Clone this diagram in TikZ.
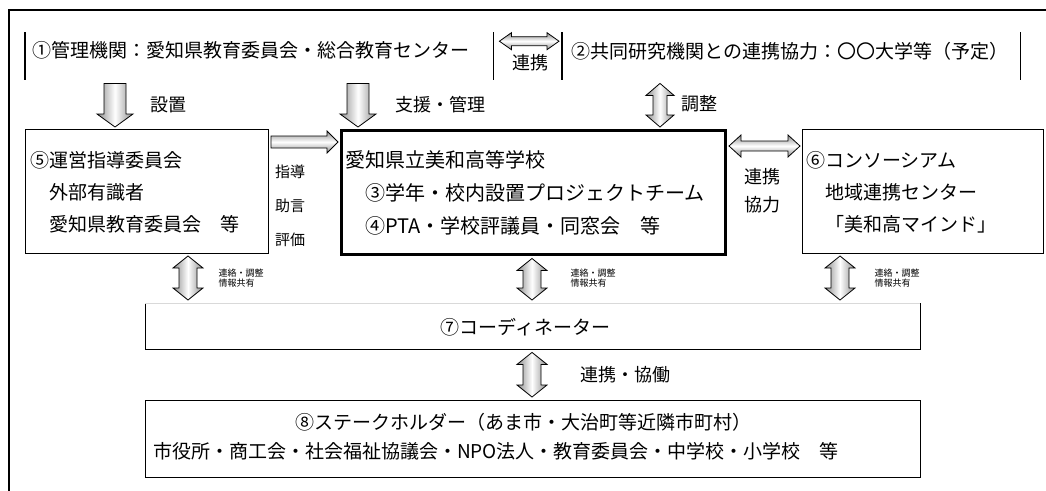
\documentclass[tikz,border=0pt]{standalone}
\usepackage{fontspec}
\setmainfont{Noto Sans CJK JP}
\usetikzlibrary{calc}

\newcommand\SingleDown[5]{\path[varr] let \p1=(#1), \p2=(#2) in
  (\x1-#3pt,\y1) -- (\x1+#3pt,\y1) -- (\x1+#3pt,\y2+#5pt) -- (\x1+#4pt,\y2+#5pt) -- (\x1,\y2)
  -- (\x1-#4pt,\y2+#5pt) -- (\x1-#3pt,\y2+#5pt) -- cycle;}
\newcommand\SingleRight[5]{\path[harr] let \p1=(#1), \p2=(#2) in
  (\x1,\y1+#3pt) -- (\x2-#5pt,\y1+#3pt) -- (\x2-#5pt,\y1+#4pt) -- (\x2,\y1)
  -- (\x2-#5pt,\y1-#4pt) -- (\x2-#5pt,\y1-#3pt) -- (\x1,\y1-#3pt) -- cycle;}
\newcommand\DoubleV[5]{\path[varr] let \p1=(#1), \p2=(#2) in
  (\x1,\y1) -- (\x1+#4pt,\y1-#5pt) -- (\x1+#3pt,\y1-#5pt) -- (\x1+#3pt,\y2+#5pt) -- (\x1+#4pt,\y2+#5pt)
  -- (\x1,\y2) -- (\x1-#4pt,\y2+#5pt) -- (\x1-#3pt,\y2+#5pt) -- (\x1-#3pt,\y1-#5pt) -- (\x1-#4pt,\y1-#5pt) -- cycle;}
\newcommand\DoubleH[5]{\path[harr] let \p1=(#1), \p2=(#2) in
  (\x1,\y1) -- (\x1+#5pt,\y1+#4pt) -- (\x1+#5pt,\y1+#3pt) -- (\x2-#5pt,\y1+#3pt) -- (\x2-#5pt,\y1+#4pt)
  -- (\x2,\y1) -- (\x2-#5pt,\y1-#4pt) -- (\x2-#5pt,\y1-#3pt) -- (\x1+#5pt,\y1-#3pt) -- (\x1+#5pt,\y1-#4pt) -- cycle;}

\tikzset{
  area/.style={inner sep=0, anchor=north west},
  thinbox/.style={draw, line width=1pt, inner sep=0, anchor=north west},
  thickbox/.style={draw, line width=3pt, inner sep=0, anchor=north west},
  bracket/.style={line width=1.5pt},
  txt/.style={font=\fontsize{19}{32}\selectfont, align=left, inner sep=0},
  ctxt/.style={font=\fontsize{20}{33}\selectfont, align=left, inner sep=0},
  lbl/.style={font=\fontsize{18}{20}\selectfont, inner sep=0},
  slbl/.style={font=\fontsize{15}{34}\selectfont, align=center, inner sep=0},
  lbl2/.style={font=\fontsize{18}{28}\selectfont, align=center, inner sep=0},
  tiny/.style={font=\fontsize{9}{10}\selectfont, align=left, inner sep=0},
  varr/.style={draw=black, line width=0.8pt, left color=black!45, right color=black!45, middle color=white},
  harr/.style={draw=black, line width=0.8pt, top color=black!45, bottom color=black!45, middle color=white},
}

\begin{document}
\begin{tikzpicture}[x=1pt,y=-1pt]
\useasboundingbox (0,0) rectangle (1046,490);
\clip (0,0) rectangle (1046,490);
\draw[line width=2pt] (9,500) -- (9,10) -- (1060,10);

% top row
\node[area, minimum width=468, minimum height=48] (b1) at (25,32) {};
\node[area, minimum width=458, minimum height=48] (b2) at (562,32) {};
\draw[bracket] (b1.north west) -- (b1.south west);
\draw[bracket] (b1.north east) -- (b1.south east);
\draw[bracket] (b2.north west) -- (b2.south west);
\draw[bracket] (b2.north east) -- (b2.south east);
\node[txt] (t1) at (251,50) {①管理機関：愛知県教育委員会・総合教育センター};
\node[txt] (t2) at (790,51) {②共同研究機関との連携協力：〇〇大学等（予定）};
\coordinate (a12s) at ($(b1.east)+(6,-15)$);
\coordinate (a12e) at ($(b2.west)+(-3,-15)$);
\DoubleH{a12s}{a12e}{4.5}{8.5}{12}
\node[lbl] (l12) at (530,63) {連携};

% second row
\node[thinbox, minimum width=243, minimum height=124] (b5) at (25,129) {};
\node[thickbox, minimum width=384, minimum height=124] (bc) at (340,129) {};
\node[thinbox, minimum width=241, minimum height=124] (b6) at (802,129) {};

\node[txt, anchor=west] (tx5) at ($(b5.west)+(5,1)$) {⑤運営指導委員会\\　外部有識者\\　愛知県教育委員会　等};
\node[ctxt, anchor=west] (txc) at ($(bc.west)+(5,0)$) {愛知県立美和高等学校\\　③学年・校内設置プロジェクトチーム\\　④PTA・学校評議員・同窓会　等};
\node[txt, anchor=west] (tx6) at ($(b6.west)+(4,1)$) {⑥コンソーシアム\\　地域連携センター\\　「美和高マインド」};

% arrows from top row
\coordinate (a15s) at ([shift={(90,3)}]b1.south west);
\coordinate (a15e) at ([shift={(90,-2)}]b5.north west);
\SingleDown{a15s}{a15e}{11}{18}{13}
\node[lbl] (l15) at (168,105) {設置};

\coordinate (a1cs) at ([shift={(333,3)}]b1.south west);
\coordinate (a1ce) at ([shift={(18,-2)}]bc.north west);
\SingleDown{a1cs}{a1ce}{11}{18}{13}
\node[lbl] (l1c) at (440,105) {支援・管理};

\coordinate (a2cs) at ([shift={(98,3)}]b2.south west);
\coordinate (a2ce) at ([shift={(320,-2)}]bc.north west);
\DoubleV{a2cs}{a2ce}{7}{14}{12}
\node[lbl] (l2c) at (699,104) {調整};

\coordinate (a5cs) at ([shift={(2,13)}]b5.north east);
\coordinate (a5ce) at ([shift={(-2,13)}]bc.north west);
\SingleRight{a5cs}{a5ce}{6}{11}{11}
\node[slbl] (l5c) at (290,206) {指導\\助言\\評価};

\coordinate (ac6s) at ([shift={(2,17)}]bc.north east);
\coordinate (ac6e) at ([shift={(-2,17)}]b6.north west);
\DoubleH{ac6s}{ac6e}{5}{11}{12}
\node[lbl2] (lc6) at (762,191) {連携\\協力};

% third row
\node[area, minimum width=775, minimum height=46] (b7) at (145,303) {};
\draw[line width=1pt] (b7.north west) -- (b7.south west) -- (b7.south east) -- (b7.north east);
\draw[line width=0.4pt, black!15] (b7.north west) -- (b7.north east);
\node[txt] (t7) at ($(b7.center)+(-7,1)$) {⑦コーディネーター};

\coordinate (a57s) at ([shift={(163,2)}]b5.south west);
\coordinate (a57e) at ([shift={(43,-3)}]b7.north west);
\DoubleV{a57s}{a57e}{9}{15}{12}
\node[tiny] (l57) at (241,278) {連絡・調整\\情報共有};

\coordinate (ac7s) at ([shift={(192,2.5)}]bc.south west);
\coordinate (ac7e) at ([shift={(387,-3)}]b7.north west);
\DoubleV{ac7s}{ac7e}{9}{15}{12}
\node[tiny] (lc7) at (593,278) {連絡・調整\\情報共有};

\coordinate (a67s) at ([shift={(38,2)}]b6.south west);
\coordinate (a67e) at ([shift={(695,-3)}]b7.north west);
\DoubleV{a67s}{a67e}{9}{15}{12}
\node[tiny] (l67) at (897,278) {連絡・調整\\情報共有};

% bottom
\node[thinbox, minimum width=775, minimum height=77] (b8) at (145,400) {};
\node[txt] (t8a) at (523,422) {⑧ステークホルダー（あま市・大治町等近隣市町村）};
\node[txt] (t8b) at (496,451) {市役所・商工会・社会福祉協議会・NPO法人・教育委員会・中学校・小学校　等};

\coordinate (a78s) at ([shift={(387,3)}]b7.south west);
\coordinate (a78e) at ([shift={(387,-3)}]b8.north west);
\DoubleV{a78s}{a78e}{9}{15}{12}
\node[lbl] (l78) at (625,375) {連携・協働};
\end{tikzpicture}
\end{document}
